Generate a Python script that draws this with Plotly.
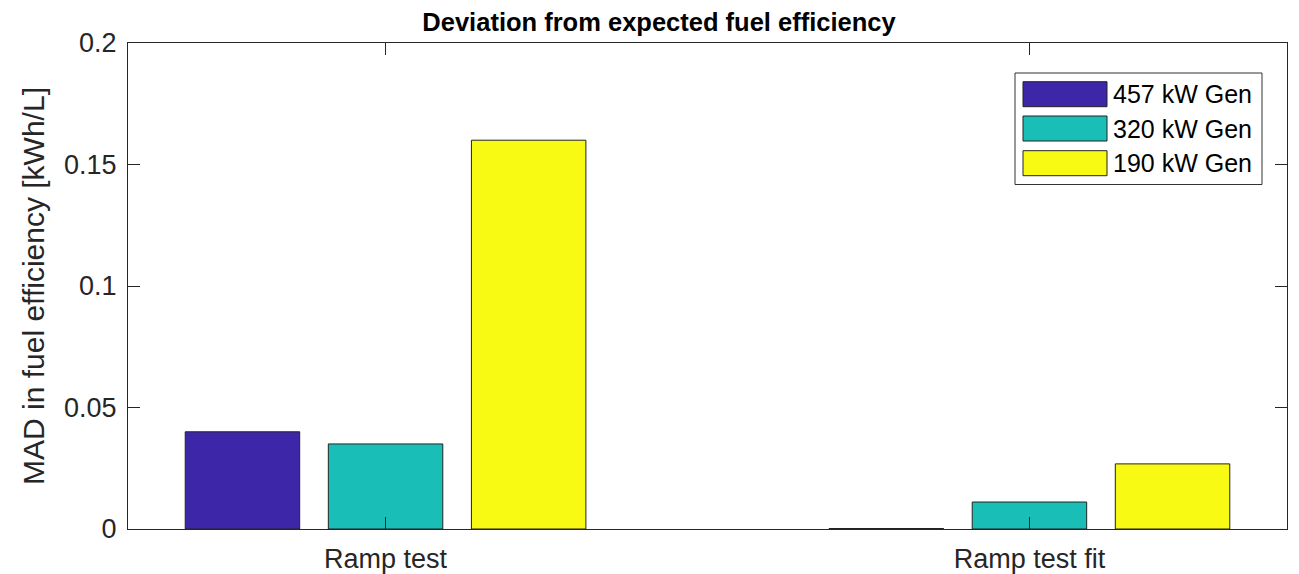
import plotly.graph_objects as go

categories = ["Ramp test", "Ramp test fit"]
series_names = ["457 kW Gen", "320 kW Gen", "190 kW Gen"]
values_457 = [0.040, 0.0002]
values_320 = [0.035, 0.0111]
values_190 = [0.160, 0.0268]
series_values = [values_457, values_320, values_190]
colors = ["#3E26A8", "#19BFB6", "#F9FA14"]
y_ticks = [0, 0.05, 0.1, 0.15, 0.2]
y_tick_text = ["0", "0.05", "0.1", "0.15", "0.2"]

# page is rendered with an 8px body margin
OFF = 8
PAGE_W, PAGE_H = 1299, 574
W, H = PAGE_W - OFF, PAGE_H - OFF
# plot area in page pixels
PL, PR, PT, PB = 128, 1287, 43, 529
L, T = PL - OFF, PT - OFF
R, B = PAGE_W - PR, PAGE_H - PB
PW, PH = PR - PL, PB - PT

def px(x):
    return (x - PL) / PW

def py(y):
    return (PB - y) / PH

FONT = "Liberation Sans, Arial, sans-serif"
AX = "#262626"

fig = go.Figure()
for name, vals, col in zip(series_names, series_values, colors):
    fig.add_trace(go.Bar(x=categories, y=vals, name=name, marker_color=col,
                         marker_line_color="#222222", marker_line_width=1,
                         showlegend=False))

# custom legend (MATLAB style)
shapes = [dict(type="rect", xref="paper", yref="paper",
               x0=px(1015), x1=px(1262), y0=py(184.5), y1=py(73),
               line=dict(color="#333333", width=1), fillcolor="white", layer="above")]
annotations = []
row_tops = [81.7, 116.0, 150.7]
for name, col, top in zip(series_names, colors, row_tops):
    shapes.append(dict(type="rect", xref="paper", yref="paper",
                       x0=px(1023), x1=px(1107), y0=py(top + 25), y1=py(top),
                       line=dict(color="#222222", width=1), fillcolor=col, layer="above"))
    annotations.append(dict(xref="paper", yref="paper", x=px(1111), y=py(top + 12.5),
                            text=name, showarrow=False, xanchor="left", yanchor="middle",
                            font=dict(family=FONT, size=25, color="#000000")))

fig.update_layout(
    width=W, height=H,
    margin=dict(l=L, r=R, t=T, b=B, pad=0, autoexpand=False),
    paper_bgcolor="white", plot_bgcolor="white",
    barmode="group", bargap=1/3, bargroupgap=0.2,
    title=dict(text="<b>Deviation from expected fuel efficiency</b>", x=px(659), xanchor="center",
               xref="paper", y=1 - (22 - OFF) / H, yanchor="middle", automargin=False,
               font=dict(family=FONT, size=25.5, color="#000000")),
    shapes=shapes, annotations=annotations,
    font=dict(family=FONT, color=AX),
)
fig.update_xaxes(range=[-0.4, 1.4], showline=True, linecolor=AX, linewidth=1, mirror="ticks",
                 ticks="inside", ticklen=12, tickcolor=AX, showgrid=False, zeroline=False,
                 ticklabelstandoff=6, automargin=False,
                 tickfont=dict(family=FONT, size=27, color=AX))
fig.update_yaxes(range=[0, 0.2], tickvals=y_ticks, ticktext=y_tick_text, showline=True,
                 linecolor=AX, linewidth=1, mirror="ticks", ticks="inside", ticklen=12,
                 tickcolor=AX, showgrid=False, zeroline=False, ticklabelstandoff=5,
                 automargin=False,
                 tickfont=dict(family=FONT, size=27, color=AX),
                 title=dict(text="MAD in fuel efficiency [kWh/L]", standoff=10,
                            font=dict(family=FONT, size=30, color=AX)))

fig.write_html("out.html")
